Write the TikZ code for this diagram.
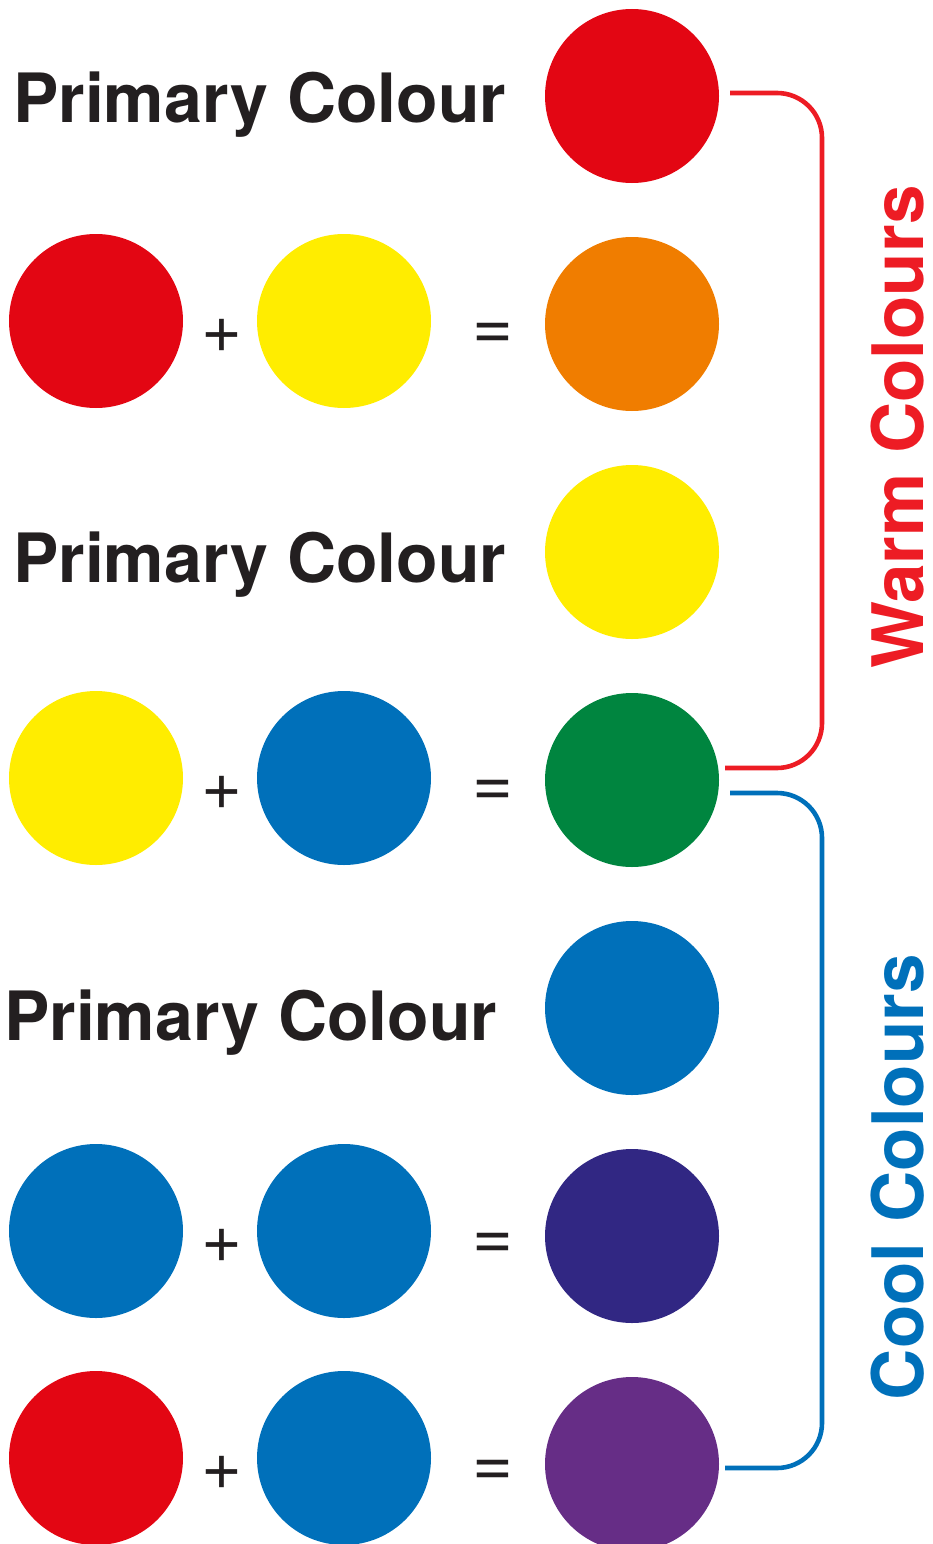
\documentclass[tikz,border=0pt]{standalone}
\usepackage{fontspec}
\setmainfont{TeX Gyre Heros}
\usetikzlibrary{positioning}
\definecolor{paint_red}{RGB}{227,6,19}
\definecolor{paint_yellow}{RGB}{255,237,0}
\definecolor{paint_orange}{RGB}{240,125,0}
\definecolor{paint_green}{RGB}{0,133,63}
\definecolor{paint_blue}{RGB}{0,112,186}
\definecolor{paint_indigo}{RGB}{49,39,131}
\definecolor{paint_purple}{RGB}{102,45,134}
\definecolor{ink}{RGB}{35,31,32}
\definecolor{warm_red}{RGB}{237,28,36}

\begin{document}
\begin{tikzpicture}[x=1pt, y=-1pt,
    paint/.style={circle, fill=#1, minimum size=174pt, inner sep=0pt},
    heading/.style={anchor=base west, inner sep=0pt, text=ink,
                    font=\fontsize{68}{68}\selectfont\bfseries},
    sign/.style={inner sep=0pt, text=ink, font=\fontsize{70}{70}\selectfont},
    brace/.style={line width=4.6pt, rounded corners=45pt},
    side/.style={rotate=90, inner sep=0pt,
                 font=\fontsize{71}{71}\selectfont\bfseries}]
    \useasboundingbox (0,0) rectangle (932,1544);
    % primary: red
    \node[heading] (H1) at (13,123) {Primary Colour};
    \node[paint=paint_red] (P1) at (632,96) {};
    % red + yellow = orange
    \node[paint=paint_red] (A1) at (96,321) {};
    \node[sign] (plus1) at (222,336) {+};
    \node[paint=paint_yellow] (B1) at (344,321) {};
    \node[sign] (eq1) at (493,336) {=};
    \node[paint=paint_orange] (R1) at (632,324) {};
    % primary: yellow
    \node[heading] (H2) at (13,582) {Primary Colour};
    \node[paint=paint_yellow] (P2) at (632,552) {};
    % yellow + blue = green
    \node[paint=paint_yellow] (A2) at (96,778) {};
    \node[sign] (plus2) at (222,793) {+};
    \node[paint=paint_blue] (B2) at (344,778) {};
    \node[sign] (eq2) at (493,793) {=};
    \node[paint=paint_green] (R2) at (632,780) {};
    % primary: blue
    \node[heading] (H3) at (4,1040) {Primary Colour};
    \node[paint=paint_blue] (P3) at (632,1008) {};
    % blue + blue = indigo
    \node[paint=paint_blue] (A3) at (96,1231) {};
    \node[sign] (plus3) at (222,1246) {+};
    \node[paint=paint_blue] (B3) at (344,1231) {};
    \node[sign] (eq3) at (493,1246) {=};
    \node[paint=paint_indigo] (R3) at (632,1236) {};
    % red + blue = purple
    \node[paint=paint_red] (A4) at (96,1458) {};
    \node[sign] (plus4) at (222,1473) {+};
    \node[paint=paint_blue] (B4) at (344,1458) {};
    \node[sign] (eq4) at (493,1473) {=};
    \node[paint=paint_purple] (R4) at (632,1464) {};
    % brackets
    \coordinate (warmtop) at (730,93);
    \coordinate (warmend) at (725,768);
    \coordinate (cooltop) at (730,793);
    \coordinate (coolend) at (725,1468);
    \draw[brace, warm_red] (warmtop) -| (822,430) |- (warmend);
    \draw[brace, paint_blue] (cooltop) -| (822,1130) |- (coolend);
    \node[side, text=warm_red] (warm) at (898,427) {Warm Colours};
    \node[side, text=paint_blue] (cool) at (898,1177) {Cool Colours};
\end{tikzpicture}
\end{document}
